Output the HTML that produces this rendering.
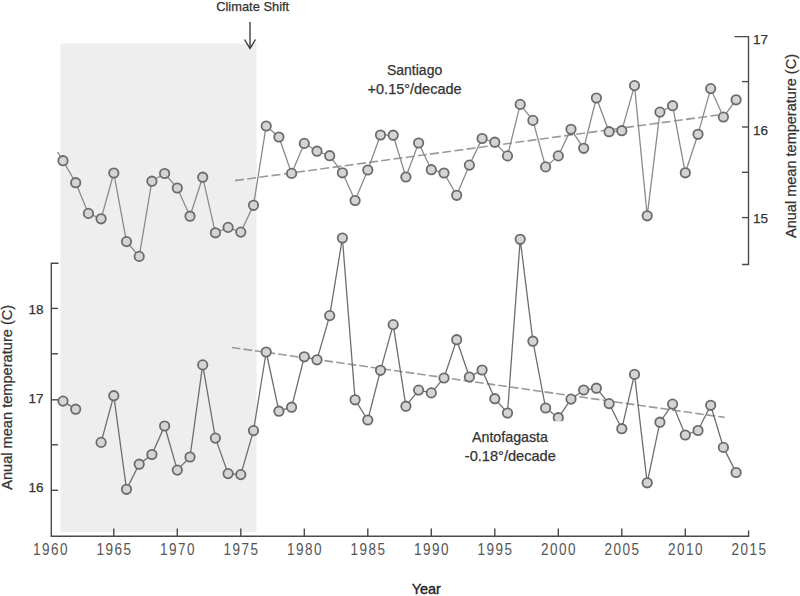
<!DOCTYPE html>
<html><head><meta charset="utf-8"><style>
html,body{margin:0;padding:0;background:#fff;}
body{width:800px;height:596px;overflow:hidden;position:relative;}
svg{position:absolute;left:0;top:0;}
text{font-family:"Liberation Sans",sans-serif;}
</style></head><body>
<svg width="800" height="596" viewBox="0 0 800 596">

<rect x="60.5" y="43.5" width="196" height="488.5" fill="#eeeeee"/>
<line x1="250" y1="22" x2="250" y2="48" stroke="#333" stroke-width="1.3"/>
<polyline points="244.5,39.5 250,48.5 255.5,39.5" fill="none" stroke="#333" stroke-width="1.3"/>
<text x="252.7" y="11.3" font-size="13" fill="#333" stroke="#333" stroke-width="0.25" text-anchor="middle" textLength="73" lengthAdjust="spacingAndGlyphs">Climate Shift</text>
<path d="M734.5,36.6 H748.5 V264.5 H742" fill="none" stroke="#4a4a4a" stroke-width="1.4"/>
<line x1="742" y1="81.6" x2="748.5" y2="81.6" stroke="#4a4a4a" stroke-width="1.4"/>
<line x1="742" y1="127" x2="748.5" y2="127" stroke="#4a4a4a" stroke-width="1.4"/>
<line x1="742" y1="172.3" x2="748.5" y2="172.3" stroke="#4a4a4a" stroke-width="1.4"/>
<line x1="742" y1="217.6" x2="748.5" y2="217.6" stroke="#4a4a4a" stroke-width="1.4"/>
<path d="M58.5,263.2 H51.3 V536.3 H748.6 V530.5" fill="none" stroke="#4a4a4a" stroke-width="1.4"/>
<line x1="51.3" y1="308.4" x2="58" y2="308.4" stroke="#4a4a4a" stroke-width="1.4"/>
<line x1="51.3" y1="353.8" x2="58" y2="353.8" stroke="#4a4a4a" stroke-width="1.4"/>
<line x1="51.3" y1="399.8" x2="58" y2="399.8" stroke="#4a4a4a" stroke-width="1.4"/>
<line x1="51.3" y1="444.8" x2="58" y2="444.8" stroke="#4a4a4a" stroke-width="1.4"/>
<line x1="51.3" y1="490.3" x2="58" y2="490.3" stroke="#4a4a4a" stroke-width="1.4"/>
<line x1="113.8" y1="528.5" x2="113.8" y2="536.3" stroke="#4a4a4a" stroke-width="1.4"/>
<line x1="177.3" y1="528.5" x2="177.3" y2="536.3" stroke="#4a4a4a" stroke-width="1.4"/>
<line x1="240.8" y1="528.5" x2="240.8" y2="536.3" stroke="#4a4a4a" stroke-width="1.4"/>
<line x1="304.3" y1="528.5" x2="304.3" y2="536.3" stroke="#4a4a4a" stroke-width="1.4"/>
<line x1="367.8" y1="528.5" x2="367.8" y2="536.3" stroke="#4a4a4a" stroke-width="1.4"/>
<line x1="431.3" y1="528.5" x2="431.3" y2="536.3" stroke="#4a4a4a" stroke-width="1.4"/>
<line x1="494.8" y1="528.5" x2="494.8" y2="536.3" stroke="#4a4a4a" stroke-width="1.4"/>
<line x1="558.3" y1="528.5" x2="558.3" y2="536.3" stroke="#4a4a4a" stroke-width="1.4"/>
<line x1="621.8" y1="528.5" x2="621.8" y2="536.3" stroke="#4a4a4a" stroke-width="1.4"/>
<line x1="685.3" y1="528.5" x2="685.3" y2="536.3" stroke="#4a4a4a" stroke-width="1.4"/>
<text x="753" y="44.3" font-size="13.5" fill="#333" stroke="#333" stroke-width="0.25">17</text>
<text x="753" y="134.8" font-size="13.5" fill="#333" stroke="#333" stroke-width="0.25">16</text>
<text x="753" y="223.4" font-size="13.5" fill="#333" stroke="#333" stroke-width="0.25">15</text>
<text x="43.6" y="314" font-size="13.5" fill="#333" stroke="#333" stroke-width="0.25" text-anchor="end">18</text>
<text x="43.6" y="403.3" font-size="13.5" fill="#333" stroke="#333" stroke-width="0.25" text-anchor="end">17</text>
<text x="43.6" y="492.3" font-size="13.5" fill="#333" stroke="#333" stroke-width="0.25" text-anchor="end">16</text>
<text x="50.3" y="555" font-size="16.5" fill="#555" text-anchor="middle" transform="translate(50.3,0) scale(0.82,1) translate(-50.3,0)" textLength="42.07" lengthAdjust="spacing">1960</text>
<text x="113.8" y="555" font-size="16.5" fill="#555" text-anchor="middle" transform="translate(113.8,0) scale(0.82,1) translate(-113.8,0)" textLength="42.07" lengthAdjust="spacing">1965</text>
<text x="177.3" y="555" font-size="16.5" fill="#555" text-anchor="middle" transform="translate(177.3,0) scale(0.82,1) translate(-177.3,0)" textLength="42.07" lengthAdjust="spacing">1970</text>
<text x="240.8" y="555" font-size="16.5" fill="#555" text-anchor="middle" transform="translate(240.8,0) scale(0.82,1) translate(-240.8,0)" textLength="42.07" lengthAdjust="spacing">1975</text>
<text x="304.3" y="555" font-size="16.5" fill="#555" text-anchor="middle" transform="translate(304.3,0) scale(0.82,1) translate(-304.3,0)" textLength="42.07" lengthAdjust="spacing">1980</text>
<text x="367.8" y="555" font-size="16.5" fill="#555" text-anchor="middle" transform="translate(367.8,0) scale(0.82,1) translate(-367.8,0)" textLength="42.07" lengthAdjust="spacing">1985</text>
<text x="431.3" y="555" font-size="16.5" fill="#555" text-anchor="middle" transform="translate(431.3,0) scale(0.82,1) translate(-431.3,0)" textLength="42.07" lengthAdjust="spacing">1990</text>
<text x="494.8" y="555" font-size="16.5" fill="#555" text-anchor="middle" transform="translate(494.8,0) scale(0.82,1) translate(-494.8,0)" textLength="42.07" lengthAdjust="spacing">1995</text>
<text x="558.3" y="555" font-size="16.5" fill="#555" text-anchor="middle" transform="translate(558.3,0) scale(0.82,1) translate(-558.3,0)" textLength="42.07" lengthAdjust="spacing">2000</text>
<text x="621.8" y="555" font-size="16.5" fill="#555" text-anchor="middle" transform="translate(621.8,0) scale(0.82,1) translate(-621.8,0)" textLength="42.07" lengthAdjust="spacing">2005</text>
<text x="685.3" y="555" font-size="16.5" fill="#555" text-anchor="middle" transform="translate(685.3,0) scale(0.82,1) translate(-685.3,0)" textLength="42.07" lengthAdjust="spacing">2010</text>
<text x="748.8" y="555" font-size="16.5" fill="#555" text-anchor="middle" transform="translate(748.8,0) scale(0.82,1) translate(-748.8,0)" textLength="42.07" lengthAdjust="spacing">2015</text>
<text transform="translate(12.0,397.3) rotate(-90)" font-size="14.4" fill="#333" stroke="#333" stroke-width="0.25" text-anchor="middle" textLength="185" lengthAdjust="spacingAndGlyphs">Anual mean temperature (C)</text>
<text transform="translate(796.2,146.0) rotate(-90)" font-size="14.4" fill="#333" stroke="#333" stroke-width="0.25" text-anchor="middle" textLength="184" lengthAdjust="spacingAndGlyphs">Anual mean temperature (C)</text>
<text x="426.3" y="594.1" font-size="14.5" fill="#222" stroke="#222" stroke-width="0.35" text-anchor="middle">Year</text>
<line x1="235" y1="180.6" x2="718" y2="115" stroke="#999" stroke-width="1.6" stroke-dasharray="9,3.3"/>
<line x1="231.8" y1="347.5" x2="724.6" y2="417.4" stroke="#999" stroke-width="1.6" stroke-dasharray="8.7,3"/>
<polyline points="57.5,152 63.0,160.7 75.7,182.7 88.4,213.4 101.1,218.8 113.8,173.0 126.5,241.6 139.2,256.4 151.9,181.2 164.6,173.5 177.3,188.0 190.0,216.2 202.7,177.2 215.4,232.8 228.1,227.4 240.8,232.1 253.5,205.3 266.2,126.0 278.9,137.0 291.6,173.4 304.3,143.4 317.0,151.2 329.7,155.7 342.4,172.8 355.1,200.5 367.8,170.0 380.5,135.0 393.2,135.2 405.9,177.0 418.6,143.0 431.3,169.7 444.0,173.0 456.7,195.3 469.4,165.1 482.1,138.5 494.8,142.2 507.5,155.9 520.2,104.4 532.9,120.4 545.6,166.9 558.3,155.9 571.0,129.3 583.7,148.3 596.4,98.0 609.1,131.7 621.8,130.7 634.5,85.6 647.2,215.8 659.9,112.1 672.6,105.7 685.3,172.8 698.0,134.3 710.7,88.6 723.4,117.0 736.1,99.8" fill="none" stroke="#8a8a8a" stroke-width="1.3"/>
<polyline points="63.0,401.1 75.7,409.2" fill="none" stroke="#6e6e6e" stroke-width="1.3"/>
<polyline points="101.1,442.4 113.8,395.7 126.5,489.3 139.2,464.2 151.9,454.5 164.6,426.0 177.3,470.1 190.0,457.0 202.7,364.9 215.4,438.1 228.1,473.6 240.8,474.6 253.5,430.6 266.2,352.0 278.9,411.2 291.6,407.2 304.3,356.8 317.0,359.8 329.7,315.6 342.4,238.0 355.1,399.8 367.8,420.0 380.5,370.3 393.2,324.6 405.9,406.2 418.6,390.1 431.3,392.9 444.0,378.0 456.7,339.7 469.4,377.0 482.1,370.0 494.8,398.7 507.5,413.0 520.2,239.3 532.9,341.2 545.6,408.0 558.3,417.7 571.0,399.1 583.7,390.0 596.4,388.2 609.1,403.6 621.8,428.7 634.5,374.4 647.2,482.8 659.9,422.2 672.6,404.1 685.3,435.0 698.0,430.5 710.7,405.3 723.4,447.4 736.1,472.5" fill="none" stroke="#6e6e6e" stroke-width="1.3"/>
<circle cx="63.0" cy="160.7" r="4.7" fill="#d4d4d4" stroke="#6b6b6b" stroke-width="1.8"/>
<circle cx="75.7" cy="182.7" r="4.7" fill="#d4d4d4" stroke="#6b6b6b" stroke-width="1.8"/>
<circle cx="88.4" cy="213.4" r="4.7" fill="#d4d4d4" stroke="#6b6b6b" stroke-width="1.8"/>
<circle cx="101.1" cy="218.8" r="4.7" fill="#d4d4d4" stroke="#6b6b6b" stroke-width="1.8"/>
<circle cx="113.8" cy="173.0" r="4.7" fill="#d4d4d4" stroke="#6b6b6b" stroke-width="1.8"/>
<circle cx="126.5" cy="241.6" r="4.7" fill="#d4d4d4" stroke="#6b6b6b" stroke-width="1.8"/>
<circle cx="139.2" cy="256.4" r="4.7" fill="#d4d4d4" stroke="#6b6b6b" stroke-width="1.8"/>
<circle cx="151.9" cy="181.2" r="4.7" fill="#d4d4d4" stroke="#6b6b6b" stroke-width="1.8"/>
<circle cx="164.6" cy="173.5" r="4.7" fill="#d4d4d4" stroke="#6b6b6b" stroke-width="1.8"/>
<circle cx="177.3" cy="188.0" r="4.7" fill="#d4d4d4" stroke="#6b6b6b" stroke-width="1.8"/>
<circle cx="190.0" cy="216.2" r="4.7" fill="#d4d4d4" stroke="#6b6b6b" stroke-width="1.8"/>
<circle cx="202.7" cy="177.2" r="4.7" fill="#d4d4d4" stroke="#6b6b6b" stroke-width="1.8"/>
<circle cx="215.4" cy="232.8" r="4.7" fill="#d4d4d4" stroke="#6b6b6b" stroke-width="1.8"/>
<circle cx="228.1" cy="227.4" r="4.7" fill="#d4d4d4" stroke="#6b6b6b" stroke-width="1.8"/>
<circle cx="240.8" cy="232.1" r="4.7" fill="#d4d4d4" stroke="#6b6b6b" stroke-width="1.8"/>
<circle cx="253.5" cy="205.3" r="4.7" fill="#d4d4d4" stroke="#6b6b6b" stroke-width="1.8"/>
<circle cx="266.2" cy="126.0" r="4.7" fill="#d4d4d4" stroke="#6b6b6b" stroke-width="1.8"/>
<circle cx="278.9" cy="137.0" r="4.7" fill="#d4d4d4" stroke="#6b6b6b" stroke-width="1.8"/>
<circle cx="291.6" cy="173.4" r="4.7" fill="#d4d4d4" stroke="#6b6b6b" stroke-width="1.8"/>
<circle cx="304.3" cy="143.4" r="4.7" fill="#d4d4d4" stroke="#6b6b6b" stroke-width="1.8"/>
<circle cx="317.0" cy="151.2" r="4.7" fill="#d4d4d4" stroke="#6b6b6b" stroke-width="1.8"/>
<circle cx="329.7" cy="155.7" r="4.7" fill="#d4d4d4" stroke="#6b6b6b" stroke-width="1.8"/>
<circle cx="342.4" cy="172.8" r="4.7" fill="#d4d4d4" stroke="#6b6b6b" stroke-width="1.8"/>
<circle cx="355.1" cy="200.5" r="4.7" fill="#d4d4d4" stroke="#6b6b6b" stroke-width="1.8"/>
<circle cx="367.8" cy="170.0" r="4.7" fill="#d4d4d4" stroke="#6b6b6b" stroke-width="1.8"/>
<circle cx="380.5" cy="135.0" r="4.7" fill="#d4d4d4" stroke="#6b6b6b" stroke-width="1.8"/>
<circle cx="393.2" cy="135.2" r="4.7" fill="#d4d4d4" stroke="#6b6b6b" stroke-width="1.8"/>
<circle cx="405.9" cy="177.0" r="4.7" fill="#d4d4d4" stroke="#6b6b6b" stroke-width="1.8"/>
<circle cx="418.6" cy="143.0" r="4.7" fill="#d4d4d4" stroke="#6b6b6b" stroke-width="1.8"/>
<circle cx="431.3" cy="169.7" r="4.7" fill="#d4d4d4" stroke="#6b6b6b" stroke-width="1.8"/>
<circle cx="444.0" cy="173.0" r="4.7" fill="#d4d4d4" stroke="#6b6b6b" stroke-width="1.8"/>
<circle cx="456.7" cy="195.3" r="4.7" fill="#d4d4d4" stroke="#6b6b6b" stroke-width="1.8"/>
<circle cx="469.4" cy="165.1" r="4.7" fill="#d4d4d4" stroke="#6b6b6b" stroke-width="1.8"/>
<circle cx="482.1" cy="138.5" r="4.7" fill="#d4d4d4" stroke="#6b6b6b" stroke-width="1.8"/>
<circle cx="494.8" cy="142.2" r="4.7" fill="#d4d4d4" stroke="#6b6b6b" stroke-width="1.8"/>
<circle cx="507.5" cy="155.9" r="4.7" fill="#d4d4d4" stroke="#6b6b6b" stroke-width="1.8"/>
<circle cx="520.2" cy="104.4" r="4.7" fill="#d4d4d4" stroke="#6b6b6b" stroke-width="1.8"/>
<circle cx="532.9" cy="120.4" r="4.7" fill="#d4d4d4" stroke="#6b6b6b" stroke-width="1.8"/>
<circle cx="545.6" cy="166.9" r="4.7" fill="#d4d4d4" stroke="#6b6b6b" stroke-width="1.8"/>
<circle cx="558.3" cy="155.9" r="4.7" fill="#d4d4d4" stroke="#6b6b6b" stroke-width="1.8"/>
<circle cx="571.0" cy="129.3" r="4.7" fill="#d4d4d4" stroke="#6b6b6b" stroke-width="1.8"/>
<circle cx="583.7" cy="148.3" r="4.7" fill="#d4d4d4" stroke="#6b6b6b" stroke-width="1.8"/>
<circle cx="596.4" cy="98.0" r="4.7" fill="#d4d4d4" stroke="#6b6b6b" stroke-width="1.8"/>
<circle cx="609.1" cy="131.7" r="4.7" fill="#d4d4d4" stroke="#6b6b6b" stroke-width="1.8"/>
<circle cx="621.8" cy="130.7" r="4.7" fill="#d4d4d4" stroke="#6b6b6b" stroke-width="1.8"/>
<circle cx="634.5" cy="85.6" r="4.7" fill="#d4d4d4" stroke="#6b6b6b" stroke-width="1.8"/>
<circle cx="647.2" cy="215.8" r="4.7" fill="#d4d4d4" stroke="#6b6b6b" stroke-width="1.8"/>
<circle cx="659.9" cy="112.1" r="4.7" fill="#d4d4d4" stroke="#6b6b6b" stroke-width="1.8"/>
<circle cx="672.6" cy="105.7" r="4.7" fill="#d4d4d4" stroke="#6b6b6b" stroke-width="1.8"/>
<circle cx="685.3" cy="172.8" r="4.7" fill="#d4d4d4" stroke="#6b6b6b" stroke-width="1.8"/>
<circle cx="698.0" cy="134.3" r="4.7" fill="#d4d4d4" stroke="#6b6b6b" stroke-width="1.8"/>
<circle cx="710.7" cy="88.6" r="4.7" fill="#d4d4d4" stroke="#6b6b6b" stroke-width="1.8"/>
<circle cx="723.4" cy="117.0" r="4.7" fill="#d4d4d4" stroke="#6b6b6b" stroke-width="1.8"/>
<circle cx="736.1" cy="99.8" r="4.7" fill="#d4d4d4" stroke="#6b6b6b" stroke-width="1.8"/>
<circle cx="63.0" cy="401.1" r="4.7" fill="#d4d4d4" stroke="#6b6b6b" stroke-width="1.8"/>
<circle cx="75.7" cy="409.2" r="4.7" fill="#d4d4d4" stroke="#6b6b6b" stroke-width="1.8"/>
<circle cx="101.1" cy="442.4" r="4.7" fill="#d4d4d4" stroke="#6b6b6b" stroke-width="1.8"/>
<circle cx="113.8" cy="395.7" r="4.7" fill="#d4d4d4" stroke="#6b6b6b" stroke-width="1.8"/>
<circle cx="126.5" cy="489.3" r="4.7" fill="#d4d4d4" stroke="#6b6b6b" stroke-width="1.8"/>
<circle cx="139.2" cy="464.2" r="4.7" fill="#d4d4d4" stroke="#6b6b6b" stroke-width="1.8"/>
<circle cx="151.9" cy="454.5" r="4.7" fill="#d4d4d4" stroke="#6b6b6b" stroke-width="1.8"/>
<circle cx="164.6" cy="426.0" r="4.7" fill="#d4d4d4" stroke="#6b6b6b" stroke-width="1.8"/>
<circle cx="177.3" cy="470.1" r="4.7" fill="#d4d4d4" stroke="#6b6b6b" stroke-width="1.8"/>
<circle cx="190.0" cy="457.0" r="4.7" fill="#d4d4d4" stroke="#6b6b6b" stroke-width="1.8"/>
<circle cx="202.7" cy="364.9" r="4.7" fill="#d4d4d4" stroke="#6b6b6b" stroke-width="1.8"/>
<circle cx="215.4" cy="438.1" r="4.7" fill="#d4d4d4" stroke="#6b6b6b" stroke-width="1.8"/>
<circle cx="228.1" cy="473.6" r="4.7" fill="#d4d4d4" stroke="#6b6b6b" stroke-width="1.8"/>
<circle cx="240.8" cy="474.6" r="4.7" fill="#d4d4d4" stroke="#6b6b6b" stroke-width="1.8"/>
<circle cx="253.5" cy="430.6" r="4.7" fill="#d4d4d4" stroke="#6b6b6b" stroke-width="1.8"/>
<circle cx="266.2" cy="352.0" r="4.7" fill="#d4d4d4" stroke="#6b6b6b" stroke-width="1.8"/>
<circle cx="278.9" cy="411.2" r="4.7" fill="#d4d4d4" stroke="#6b6b6b" stroke-width="1.8"/>
<circle cx="291.6" cy="407.2" r="4.7" fill="#d4d4d4" stroke="#6b6b6b" stroke-width="1.8"/>
<circle cx="304.3" cy="356.8" r="4.7" fill="#d4d4d4" stroke="#6b6b6b" stroke-width="1.8"/>
<circle cx="317.0" cy="359.8" r="4.7" fill="#d4d4d4" stroke="#6b6b6b" stroke-width="1.8"/>
<circle cx="329.7" cy="315.6" r="4.7" fill="#d4d4d4" stroke="#6b6b6b" stroke-width="1.8"/>
<circle cx="342.4" cy="238.0" r="4.7" fill="#d4d4d4" stroke="#6b6b6b" stroke-width="1.8"/>
<circle cx="355.1" cy="399.8" r="4.7" fill="#d4d4d4" stroke="#6b6b6b" stroke-width="1.8"/>
<circle cx="367.8" cy="420.0" r="4.7" fill="#d4d4d4" stroke="#6b6b6b" stroke-width="1.8"/>
<circle cx="380.5" cy="370.3" r="4.7" fill="#d4d4d4" stroke="#6b6b6b" stroke-width="1.8"/>
<circle cx="393.2" cy="324.6" r="4.7" fill="#d4d4d4" stroke="#6b6b6b" stroke-width="1.8"/>
<circle cx="405.9" cy="406.2" r="4.7" fill="#d4d4d4" stroke="#6b6b6b" stroke-width="1.8"/>
<circle cx="418.6" cy="390.1" r="4.7" fill="#d4d4d4" stroke="#6b6b6b" stroke-width="1.8"/>
<circle cx="431.3" cy="392.9" r="4.7" fill="#d4d4d4" stroke="#6b6b6b" stroke-width="1.8"/>
<circle cx="444.0" cy="378.0" r="4.7" fill="#d4d4d4" stroke="#6b6b6b" stroke-width="1.8"/>
<circle cx="456.7" cy="339.7" r="4.7" fill="#d4d4d4" stroke="#6b6b6b" stroke-width="1.8"/>
<circle cx="469.4" cy="377.0" r="4.7" fill="#d4d4d4" stroke="#6b6b6b" stroke-width="1.8"/>
<circle cx="482.1" cy="370.0" r="4.7" fill="#d4d4d4" stroke="#6b6b6b" stroke-width="1.8"/>
<circle cx="494.8" cy="398.7" r="4.7" fill="#d4d4d4" stroke="#6b6b6b" stroke-width="1.8"/>
<circle cx="507.5" cy="413.0" r="4.7" fill="#d4d4d4" stroke="#6b6b6b" stroke-width="1.8"/>
<circle cx="520.2" cy="239.3" r="4.7" fill="#d4d4d4" stroke="#6b6b6b" stroke-width="1.8"/>
<circle cx="532.9" cy="341.2" r="4.7" fill="#d4d4d4" stroke="#6b6b6b" stroke-width="1.8"/>
<circle cx="545.6" cy="408.0" r="4.7" fill="#d4d4d4" stroke="#6b6b6b" stroke-width="1.8"/>
<circle cx="558.3" cy="417.7" r="4.7" fill="#d4d4d4" stroke="#6b6b6b" stroke-width="1.8"/>
<circle cx="571.0" cy="399.1" r="4.7" fill="#d4d4d4" stroke="#6b6b6b" stroke-width="1.8"/>
<circle cx="583.7" cy="390.0" r="4.7" fill="#d4d4d4" stroke="#6b6b6b" stroke-width="1.8"/>
<circle cx="596.4" cy="388.2" r="4.7" fill="#d4d4d4" stroke="#6b6b6b" stroke-width="1.8"/>
<circle cx="609.1" cy="403.6" r="4.7" fill="#d4d4d4" stroke="#6b6b6b" stroke-width="1.8"/>
<circle cx="621.8" cy="428.7" r="4.7" fill="#d4d4d4" stroke="#6b6b6b" stroke-width="1.8"/>
<circle cx="634.5" cy="374.4" r="4.7" fill="#d4d4d4" stroke="#6b6b6b" stroke-width="1.8"/>
<circle cx="647.2" cy="482.8" r="4.7" fill="#d4d4d4" stroke="#6b6b6b" stroke-width="1.8"/>
<circle cx="659.9" cy="422.2" r="4.7" fill="#d4d4d4" stroke="#6b6b6b" stroke-width="1.8"/>
<circle cx="672.6" cy="404.1" r="4.7" fill="#d4d4d4" stroke="#6b6b6b" stroke-width="1.8"/>
<circle cx="685.3" cy="435.0" r="4.7" fill="#d4d4d4" stroke="#6b6b6b" stroke-width="1.8"/>
<circle cx="698.0" cy="430.5" r="4.7" fill="#d4d4d4" stroke="#6b6b6b" stroke-width="1.8"/>
<circle cx="710.7" cy="405.3" r="4.7" fill="#d4d4d4" stroke="#6b6b6b" stroke-width="1.8"/>
<circle cx="723.4" cy="447.4" r="4.7" fill="#d4d4d4" stroke="#6b6b6b" stroke-width="1.8"/>
<circle cx="736.1" cy="472.5" r="4.7" fill="#d4d4d4" stroke="#6b6b6b" stroke-width="1.8"/>
<text x="414.6" y="74.8" font-size="14" fill="#333" stroke="#333" stroke-width="0.25" text-anchor="middle">Santiago</text>
<text x="414.6" y="94" font-size="14.2" fill="#333" stroke="#333" stroke-width="0.25" text-anchor="middle" textLength="94" lengthAdjust="spacingAndGlyphs">+0.15°/decade</text>
<rect x="462" y="421.2" width="104" height="44" fill="#fff"/>
<text x="510" y="441.9" font-size="14.2" fill="#333" stroke="#333" stroke-width="0.25" text-anchor="middle" textLength="76" lengthAdjust="spacingAndGlyphs">Antofagasta</text>
<text x="510.3" y="460.6" font-size="14.2" fill="#333" stroke="#333" stroke-width="0.25" text-anchor="middle" textLength="91" lengthAdjust="spacingAndGlyphs">-0.18°/decade</text>
</svg></body></html>
